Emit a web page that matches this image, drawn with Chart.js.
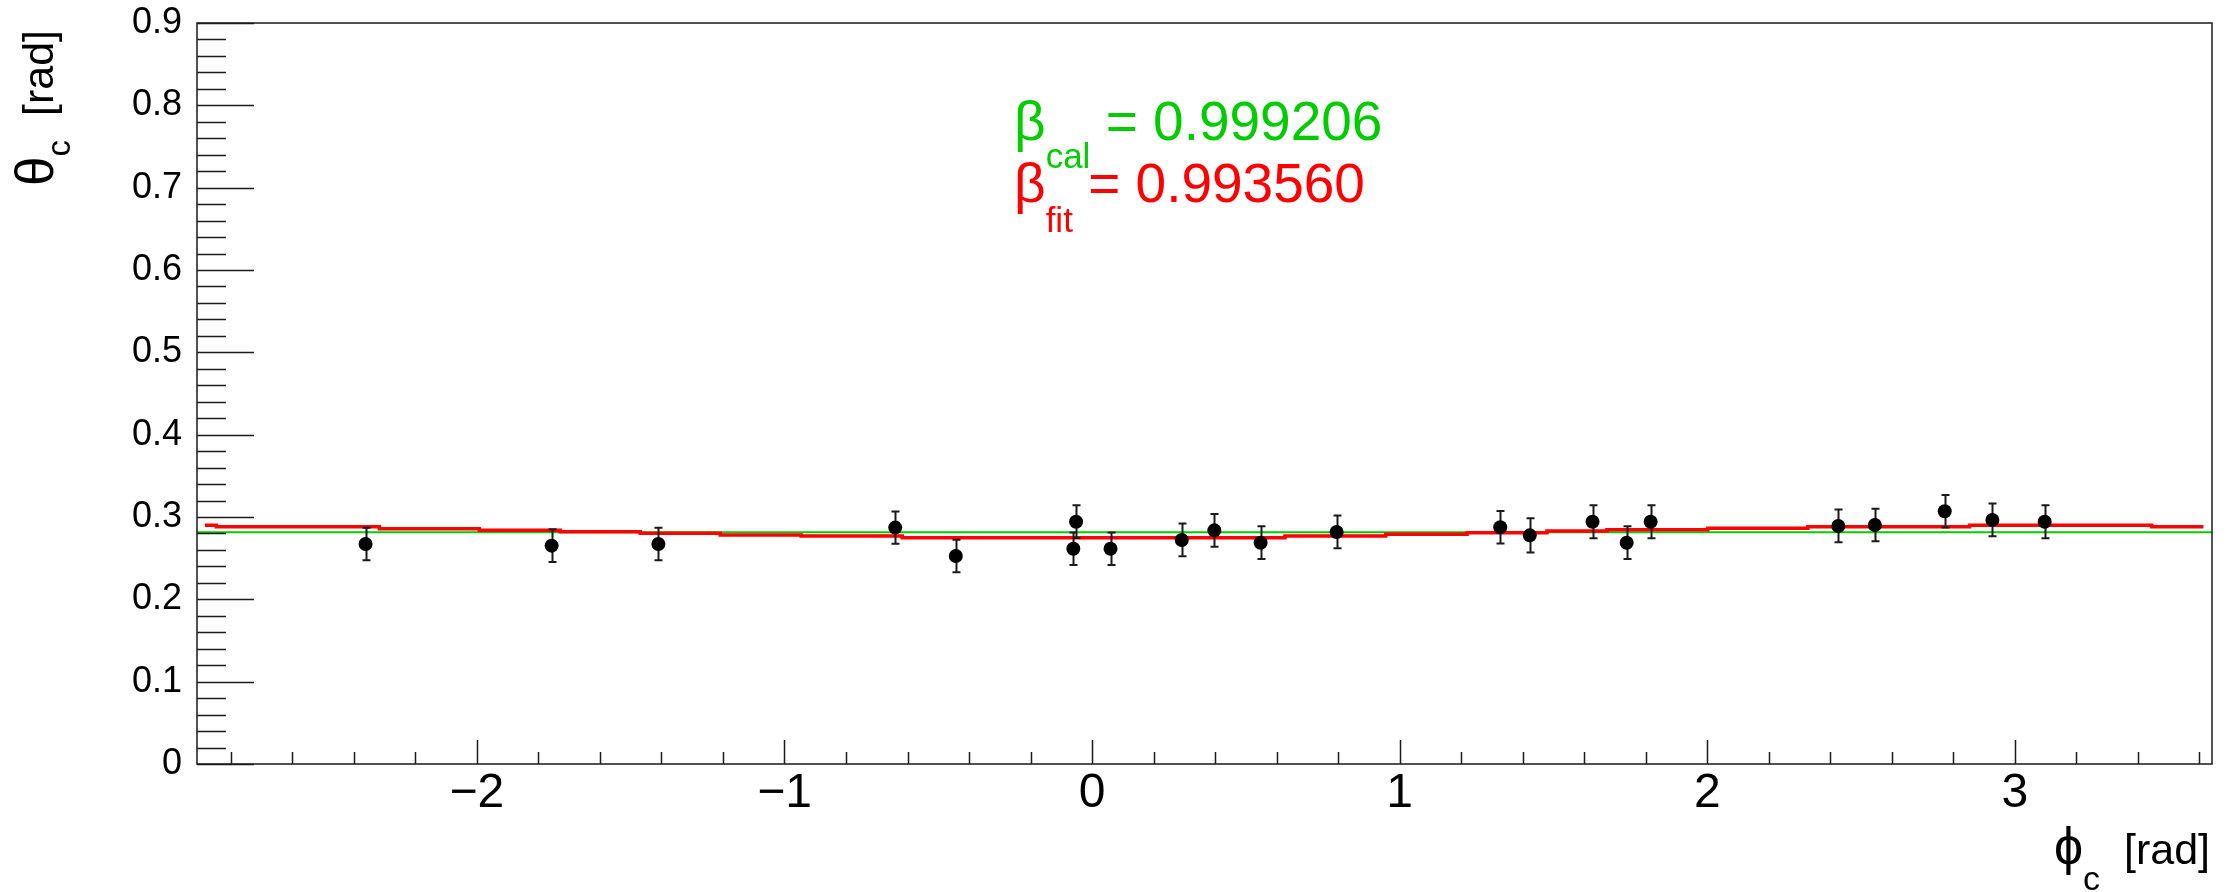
<!DOCTYPE html>
<html>
<head>
<meta charset="utf-8">
<script src="https://cdn.jsdelivr.net/npm/chart.js@4.4.1/dist/chart.umd.min.js"></script>
<style>
html, body { margin: 0; padding: 0; background: #ffffff; }
canvas { display: block; }
</style>
</head>
<body>
<canvas id="c" width="2228" height="892"></canvas>
<script>
// Cherenkov angle theta_c measured per azimuthal bin phi_c
const phiC = [-2.362, -1.757, -1.410, -0.640, -0.443, -0.061, -0.052, 0.060, 0.2915, 0.3975, 0.548,
              0.795, 1.327, 1.423, 1.627, 1.738, 1.816, 2.426, 2.545, 2.772, 2.927, 3.097];
const thetaC = [0.2672, 0.2652, 0.2672, 0.2871, 0.2526, 0.2615, 0.2943, 0.2615, 0.2721, 0.2838, 0.2688,
                0.2818, 0.2875, 0.2777, 0.2943, 0.2688, 0.2943, 0.2891, 0.2903, 0.3069, 0.2964, 0.2943];
const thetaErr = [0.0196, 0.0199, 0.0196, 0.0197, 0.0197, 0.0197, 0.0199, 0.0197, 0.0199, 0.0199, 0.0199,
                  0.0199, 0.0197, 0.0207, 0.0201, 0.0199, 0.0201, 0.0199, 0.0198, 0.0198, 0.0199, 0.0201];

// fitted ring model: start edge of each flat segment and its level (last edge closes the line)
const fitEdges = [-2.884, -2.847, -2.317, -1.992, -1.729, -1.469, -1.209, -0.946, -0.617, 0.627,
                  0.955, 1.219, 1.479, 1.674, 2.002, 2.327, 2.853, 3.445, 3.613];
const fitLevels = [0.2899, 0.2883, 0.2858, 0.2838, 0.2822, 0.2802, 0.2782, 0.2769, 0.2749, 0.2769,
                   0.2790, 0.2810, 0.2830, 0.2846, 0.2862, 0.2883, 0.2899, 0.2883];

// angle expected from the calibrated velocity
const thetaCal = 0.2815;
const betaCalText = '0.999206';
const betaFitText = '0.993560';

// axes
const xRange = [-2.91, 3.641];
const yRange = [0, 0.9];
const xTicks = [-2, -1, 0, 1, 2, 3];
const yTicks = [0, 0.1, 0.2, 0.3, 0.4, 0.5, 0.6, 0.7, 0.8, 0.9];
const xMinorStep = 0.2;
const yMinorStep = 0.02;

const FONT = '"Liberation Sans", Arial, Helvetica, "DejaVu Sans", sans-serif';
const GREEN = '#00cc00';
const RED = '#ff0000';
const INK = '#1a1a1a';

const pointData = phiC.map((x, i) => ({ x: x, y: thetaC[i] }));
const fitData = fitEdges.map((x, i) => ({ x: x, y: fitLevels[Math.min(i, fitLevels.length - 1)] }));
const calData = [{ x: xRange[0], y: thetaCal }, { x: xRange[1], y: thetaCal }];

function fmtX(v) {
  return v < 0 ? '\u2212' + Math.abs(v) : String(v);
}
function fmtY(v) {
  return v === 0 ? '0' : v.toFixed(1);
}

// vertical error bars with small caps, drawn right before the markers
const errorBars = {
  id: 'errorBars',
  beforeDatasetDraw(chart, args) {
    if (args.index !== 0) return;
    const { ctx, scales: { x, y } } = chart;
    ctx.save();
    ctx.strokeStyle = INK;
    ctx.lineWidth = 2;
    ctx.beginPath();
    phiC.forEach((p, i) => {
      const px = Math.round(x.getPixelForValue(p)) + 0.5;
      const y1 = y.getPixelForValue(thetaC[i] - thetaErr[i]);
      const y2 = y.getPixelForValue(thetaC[i] + thetaErr[i]);
      ctx.moveTo(px, y1); ctx.lineTo(px, y2);
      ctx.moveTo(px - 4, y1); ctx.lineTo(px + 4, y1);
      ctx.moveTo(px - 4, y2); ctx.lineTo(px + 4, y2);
    });
    ctx.stroke();
    ctx.restore();
  }
};

// frame, inward ticks, axis titles and the beta labels
function drawPieces(ctx, x0, baseline, pieces) {
  let x = x0;
  pieces.forEach(p => {
    ctx.font = p.size + 'px ' + FONT;
    ctx.fillStyle = p.color;
    ctx.fillText(p.text, x, baseline + (p.dy || 0));
    x += ctx.measureText(p.text).width;
  });
  return x;
}
function piecesWidth(ctx, pieces) {
  let w = 0;
  pieces.forEach(p => { ctx.font = p.size + 'px ' + FONT; w += ctx.measureText(p.text).width; });
  return w;
}

const frame = {
  id: 'frame',
  afterDraw(chart) {
    const { ctx, chartArea: a, scales: { x, y } } = chart;
    ctx.save();
    ctx.strokeStyle = INK;
    ctx.lineWidth = 1.5;
    ctx.strokeRect(a.left, a.top, a.right - a.left, a.bottom - a.top);

    ctx.beginPath();
    const kx0 = Math.ceil(xRange[0] / xMinorStep - 1e-9);
    const kx1 = Math.floor(xRange[1] / xMinorStep + 1e-9);
    for (let k = kx0; k <= kx1; k++) {
      const px = Math.round(x.getPixelForValue(k * xMinorStep)) + 0.5;
      const len = (k % 5 === 0) ? 24 : 12;
      ctx.moveTo(px, a.bottom); ctx.lineTo(px, a.bottom - len);
    }
    const ky1 = Math.round(yRange[1] / yMinorStep);
    for (let k = 0; k <= ky1; k++) {
      const py = Math.round(y.getPixelForValue(k * yMinorStep)) + 0.5;
      const len = (k % 5 === 0) ? 57 : 29;
      ctx.moveTo(a.left, py); ctx.lineTo(a.left + len, py);
    }
    ctx.stroke();

    ctx.textAlign = 'left';
    ctx.textBaseline = 'alphabetic';

    // x title, right-aligned to the frame
    const xt = [
      { text: '\u03d5', size: 52, color: '#000' },
      { text: 'c', size: 34, color: '#000', dy: 26 },
      { text: '  [rad]', size: 43, color: '#000' }
    ];
    drawPieces(ctx, a.right - 2 - piecesWidth(ctx, xt), 864, xt);

    // y title, rotated, ending near the top of the frame
    const yt = [
      { text: '\u03b8', size: 53, color: '#000' },
      { text: 'c', size: 33, color: '#000', dy: 17 },
      { text: '  [rad]', size: 43, color: '#000' }
    ];
    ctx.save();
    ctx.translate(53, a.top + 7);
    ctx.rotate(-Math.PI / 2);
    drawPieces(ctx, -piecesWidth(ctx, yt), 0, yt);
    ctx.restore();

    // beta values
    drawPieces(ctx, 1014, 140, [
      { text: '\u03b2', size: 55, color: GREEN },
      { text: 'cal', size: 35, color: GREEN, dy: 28 },
      { text: ' = ' + betaCalText, size: 55, color: GREEN }
    ]);
    drawPieces(ctx, 1014, 202, [
      { text: '\u03b2', size: 55, color: RED },
      { text: 'fit', size: 35, color: RED, dy: 30 },
      { text: ' = ' + betaFitText, size: 55, color: RED }
    ]);
    ctx.restore();
  }
};

function noPadding(s) {
  s.paddingTop = 0; s.paddingBottom = 0; s.paddingLeft = 0; s.paddingRight = 0;
}

new Chart(document.getElementById('c'), {
  type: 'scatter',
  data: {
    datasets: [
      {
        data: pointData,
        backgroundColor: '#000',
        borderColor: '#000',
        pointRadius: 7,
        pointBorderWidth: 0,
        showLine: false
      },
      {
        data: fitData,
        showLine: true,
        stepped: true,
        borderColor: RED,
        borderWidth: 3.5,
        pointRadius: 0,
        fill: false
      },
      {
        data: calData,
        showLine: true,
        borderColor: GREEN,
        borderWidth: 2,
        pointRadius: 0,
        fill: false
      }
    ]
  },
  options: {
    responsive: false,
    animation: false,
    devicePixelRatio: 1,
    layout: { padding: { left: 0, right: 16, top: 23, bottom: 0 } },
    plugins: { legend: { display: false }, tooltip: { enabled: false } },
    scales: {
      x: {
        type: 'linear',
        min: xRange[0],
        max: xRange[1],
        grid: { display: false, drawTicks: false },
        border: { display: false },
        afterBuildTicks: s => { s.ticks = xTicks.map(v => ({ value: v })); },
        afterFit: s => { s.height = 128; noPadding(s); },
        ticks: {
          autoSkip: false, maxRotation: 0, minRotation: 0, padding: 1,
          color: '#000', font: { family: FONT, size: 48 },
          callback: v => fmtX(v)
        }
      },
      y: {
        type: 'linear',
        min: yRange[0],
        max: yRange[1],
        grid: { display: false, drawTicks: false },
        border: { display: false },
        afterBuildTicks: s => { s.ticks = yTicks.map(v => ({ value: v })); },
        afterFit: s => { s.width = 197; noPadding(s); },
        ticks: {
          autoSkip: false, padding: 15,
          color: '#000', font: { family: FONT, size: 36 },
          callback: v => fmtY(v)
        }
      }
    }
  },
  plugins: [errorBars, frame]
});
</script>
</body>
</html>
